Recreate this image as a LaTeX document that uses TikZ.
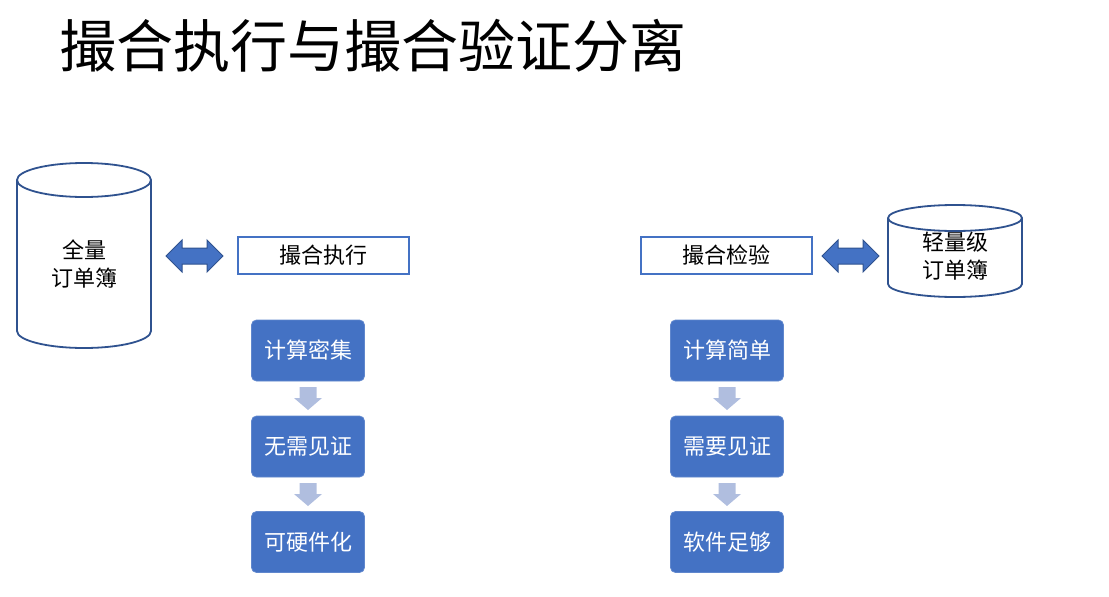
\documentclass[tikz,border=0pt]{standalone}
\usepackage{fontspec}
\setmainfont{Noto Sans CJK SC}
\usetikzlibrary{positioning}
\definecolor{accent}{HTML}{4472C4}
\definecolor{darkline}{HTML}{2F528F}
\definecolor{lightarrow}{HTML}{B0BEDF}
\tikzset{
  lbl/.style={font=\fontsize{22}{28}\selectfont, text=black, align=center, inner sep=0pt},
  stagebox/.style={draw=accent, line width=1.8pt, fill=white, minimum width=171pt, minimum height=37pt, inner sep=0pt, font=\fontsize{22}{28}\selectfont},
  bluebox/.style={fill=accent, draw=accent!85!white, line width=0.8pt, rounded corners=5pt, minimum width=113pt, minimum height=61pt, inner sep=0pt, text=white, font=\fontsize{22}{28}\selectfont},
  cyl/.style={draw=darkline, line width=1.8pt, fill=white},
  fatarrow/.style={fill=accent, draw=darkline, line width=1pt, line join=miter},
  downarrow/.style={fill=lightarrow, draw=none},
}
\begin{document}
\begin{tikzpicture}[x=1pt,y=-1pt]
\useasboundingbox (0,0) rectangle (1109,597);

% title
\node[anchor=west, inner sep=0pt, font=\fontsize{57}{64}\selectfont, text=black] (title) at (59,46) {撮合执行与撮合验证分离};

% left cylinder
\path[cyl] (17,180) -- (17,331) arc[start angle=180, end angle=0, x radius=67, y radius=17] -- (151,180) arc[start angle=0, end angle=-180, x radius=67, y radius=17] -- cycle;
\draw[cyl, fill=none] (17,180) arc[start angle=180, end angle=0, x radius=67, y radius=17];
\node[lbl] (full) at (84,264) {全量\\订单簿};

% right cylinder
\path[cyl] (888,218) -- (888,284) arc[start angle=180, end angle=0, x radius=67, y radius=13] -- (1022,218) arc[start angle=0, end angle=-180, x radius=67, y radius=13] -- cycle;
\draw[cyl, fill=none] (888,218) arc[start angle=180, end angle=0, x radius=67, y radius=13];
\node[lbl] (light) at (955,256) {轻量级\\订单簿};

% stage boxes
\node[stagebox] (exec) at (323.5,255.5) {撮合执行};
\node[stagebox] (check) at (726.5,255.5) {撮合检验};

% double arrows
\path[fatarrow] (166,256) -- (182,240) -- (182,248) -- (207,248) -- (207,240) -- (223,256) -- (207,272) -- (207,264) -- (182,264) -- (182,272) -- cycle;
\path[fatarrow] (822,256) -- (838,240) -- (838,248) -- (863,248) -- (863,240) -- (879,256) -- (863,272) -- (863,264) -- (838,264) -- (838,272) -- cycle;

% left column
\node[bluebox] (l1) at (308,350.5) {计算密集};
\node[bluebox] (l2) at (308,446.5) {无需见证};
\node[bluebox] (l3) at (308,542) {可硬件化};
% right column
\node[bluebox] (r1) at (727,350.5) {计算简单};
\node[bluebox] (r2) at (727,446.5) {需要见证};
\node[bluebox] (r3) at (727,542) {软件足够};

% down arrows
\foreach \cx/\ty in {308/387, 308/483, 727/387, 727/483}{
  \path[downarrow] (\cx-8.5,\ty) -- (\cx+8.5,\ty) -- (\cx+8.5,\ty+11) -- (\cx+14,\ty+11) -- (\cx,\ty+23) -- (\cx-14,\ty+11) -- (\cx-8.5,\ty+11) -- cycle;
}
\end{tikzpicture}
\end{document}
